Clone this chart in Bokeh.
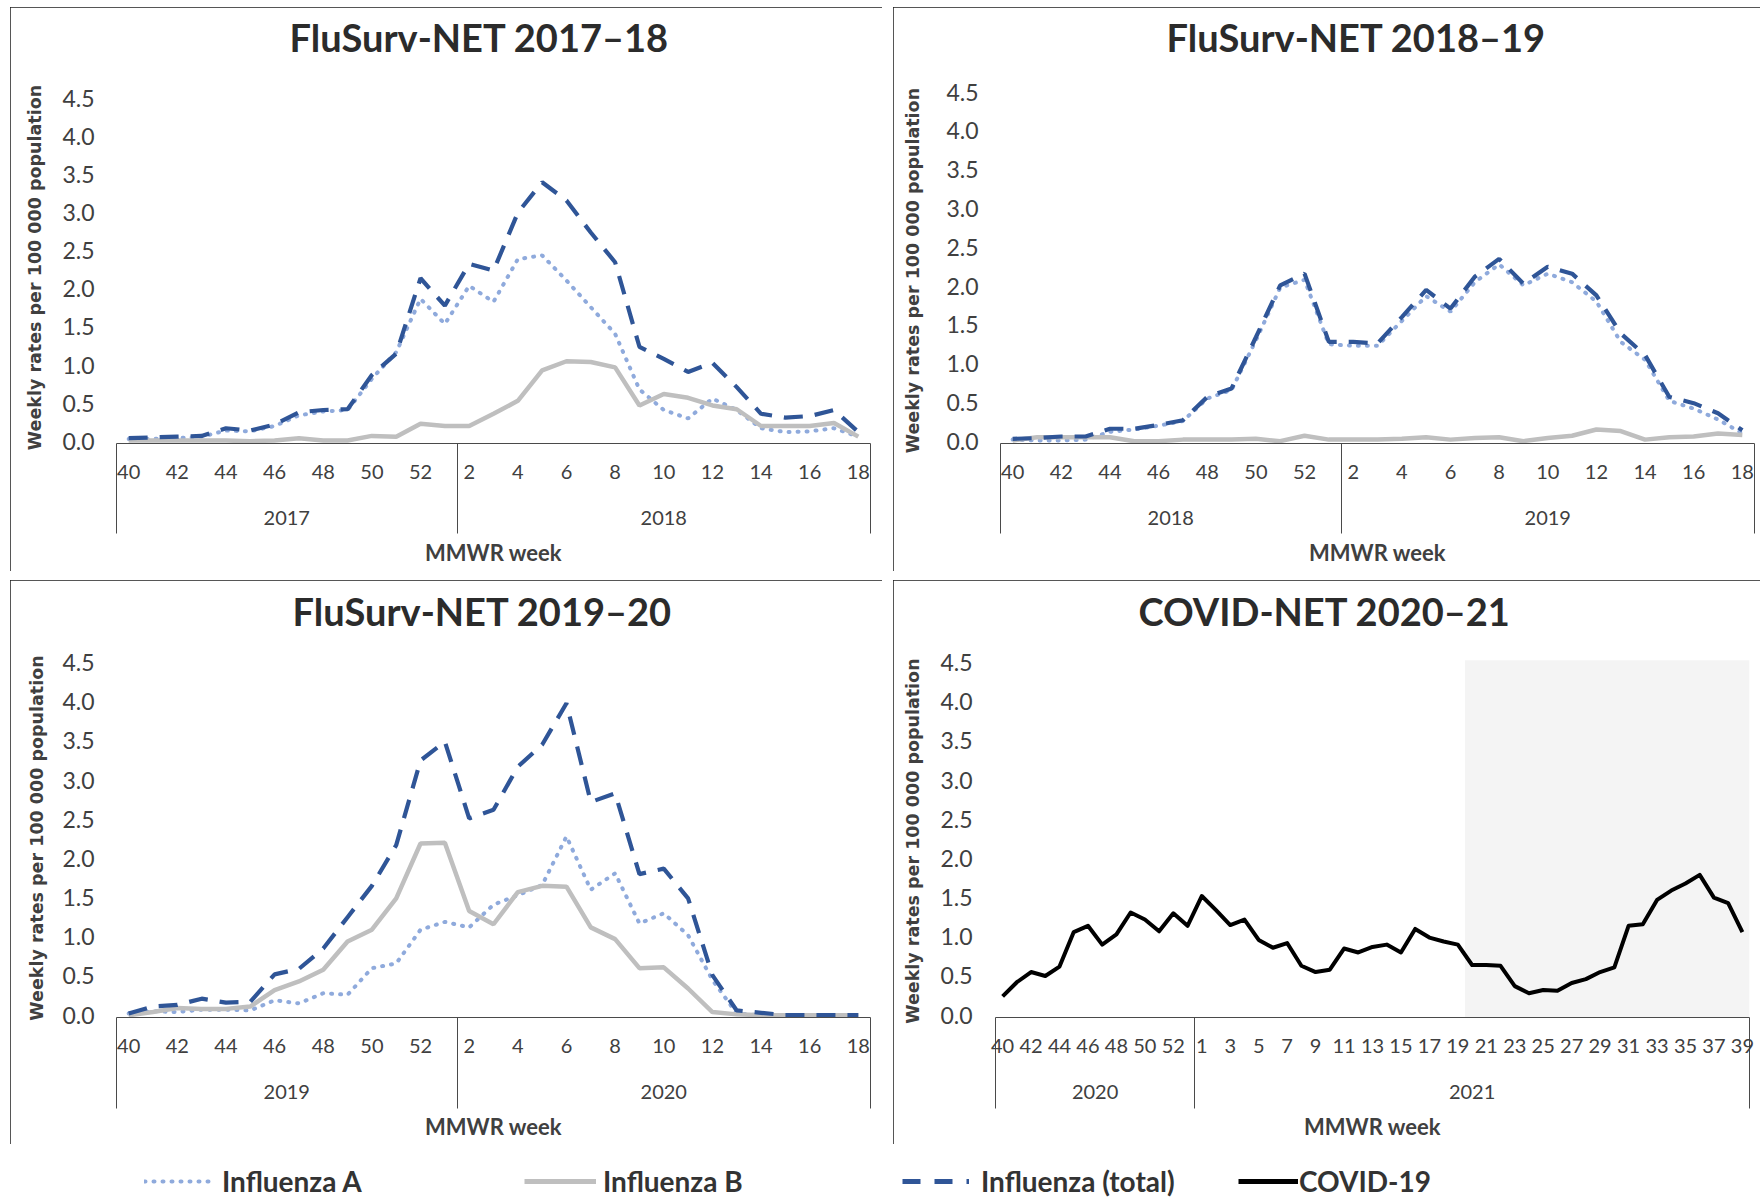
from bokeh.plotting import figure
from bokeh.models import (FixedTicker, LinearAxis, Range1d, Legend, LegendItem,
                          ColumnDataSource, PrintfTickFormatter, Spacer)
from bokeh.layouts import column, row
from bokeh.embed import file_html
from bokeh.resources import INLINE

# ---------------- data ----------------
FLU_WEEKS = list(range(40, 53)) + list(range(1, 19))
FLU_GROUP_SIZES = [14, 17]

S1718_YEARS = ["2017", "2018"]
S1718_A = [0.03, 0.03, 0.04, 0.06, 0.14, 0.13, 0.20, 0.34, 0.39, 0.41, 0.82, 1.17, 1.87, 1.54, 2.04, 1.83,
           2.39, 2.44, 2.11, 1.76, 1.41, 0.68, 0.41, 0.30, 0.56, 0.41, 0.17, 0.12, 0.13, 0.17, 0.06]
S1718_B = [0.01, 0.01, 0.01, 0.01, 0.01, 0.00, 0.01, 0.04, 0.01, 0.01, 0.07, 0.06, 0.23, 0.20, 0.20, 0.36,
           0.53, 0.93, 1.05, 1.04, 0.97, 0.47, 0.62, 0.57, 0.47, 0.42, 0.20, 0.20, 0.20, 0.24, 0.06]
S1718_TOTAL = [0.04, 0.05, 0.06, 0.07, 0.17, 0.14, 0.22, 0.38, 0.41, 0.42, 0.87, 1.15, 2.14, 1.78, 2.33, 2.24,
               3.00, 3.40, 3.16, 2.74, 2.35, 1.24, 1.08, 0.91, 1.03, 0.71, 0.36, 0.31, 0.33, 0.41, 0.12]

S1819_YEARS = ["2018", "2019"]
S1819_A = [0.02, 0.01, 0.01, 0.02, 0.12, 0.15, 0.20, 0.26, 0.55, 0.66, 1.30, 1.98, 2.08, 1.25, 1.23, 1.23,
           1.55, 1.87, 1.67, 2.05, 2.28, 2.01, 2.16, 2.05, 1.80, 1.28, 1.05, 0.52, 0.42, 0.28, 0.10]
S1819_B = [0.01, 0.05, 0.05, 0.05, 0.05, 0.00, 0.00, 0.02, 0.02, 0.02, 0.03, 0.00, 0.07, 0.02, 0.02, 0.02,
           0.03, 0.05, 0.02, 0.04, 0.05, 0.00, 0.04, 0.07, 0.15, 0.13, 0.02, 0.05, 0.06, 0.10, 0.08]
S1819_TOTAL = [0.03, 0.04, 0.06, 0.06, 0.16, 0.16, 0.21, 0.27, 0.57, 0.68, 1.34, 2.01, 2.16, 1.28, 1.28, 1.26,
               1.60, 1.95, 1.71, 2.12, 2.35, 2.03, 2.25, 2.16, 1.88, 1.39, 1.11, 0.57, 0.49, 0.36, 0.14]

S1920_YEARS = ["2019", "2020"]
S1920_A = [0.02, 0.05, 0.04, 0.07, 0.07, 0.06, 0.19, 0.15, 0.28, 0.26, 0.60, 0.66, 1.09, 1.19, 1.12, 1.41,
           1.53, 1.66, 2.28, 1.60, 1.81, 1.17, 1.30, 1.02, 0.45, 0.02, 0.00, 0.00, 0.00, 0.00, 0.00]
S1920_B = [0.00, 0.04, 0.09, 0.08, 0.08, 0.11, 0.32, 0.43, 0.58, 0.94, 1.09, 1.49, 2.19, 2.20, 1.33, 1.16,
           1.57, 1.65, 1.64, 1.12, 0.97, 0.60, 0.61, 0.34, 0.04, 0.01, 0.00, 0.00, 0.00, 0.00, 0.00]
S1920_TOTAL = [0.02, 0.11, 0.13, 0.21, 0.16, 0.17, 0.52, 0.59, 0.85, 1.25, 1.65, 2.17, 3.25, 3.49, 2.51, 2.62,
               3.17, 3.45, 3.98, 2.72, 2.83, 1.80, 1.87, 1.49, 0.51, 0.06, 0.03, 0.00, 0.00, 0.00, 0.00]

COVID_WEEKS = list(range(40, 54)) + list(range(1, 40))
COVID_GROUP_SIZES = [14, 39]
COVID_YEARS = ["2020", "2021"]
COVID_RATES = [0.24, 0.42, 0.55, 0.50, 0.62, 1.06, 1.14, 0.90, 1.03, 1.31, 1.22, 1.07, 1.30, 1.14,
               1.52, 1.34, 1.15, 1.22, 0.96, 0.86, 0.92, 0.63, 0.55, 0.58, 0.85, 0.80, 0.87, 0.90,
               0.80, 1.10, 0.99, 0.94, 0.90, 0.64, 0.64, 0.63, 0.37, 0.28, 0.32, 0.31, 0.41, 0.46,
               0.55, 0.61, 1.14, 1.16, 1.47, 1.59, 1.68, 1.79, 1.50, 1.43, 1.06]
COVID_SHADE_START_WEEK = 20      # 2021 week where the grey band starts
COVID_SHADE_TOP = 4.53

Y_TICKS = [0.0, 0.5, 1.0, 1.5, 2.0, 2.5, 3.0, 3.5, 4.0, 4.5]
LEGEND_LABELS = ["Influenza A", "Influenza B", "Influenza (total)", "COVID-19"]

# ---------------- styles ----------------
C_A = "#8FAADC"
C_B = "#BFBFBF"
C_TOT = "#2F5597"
C_COVID = "#000000"
TXT = "#404040"
TITLE_C = "#2b2b2b"
AX_C = "#4a4a4a"
FONT = "Lato"
Y_START = -0.03
BOX_LEFT = {"outline": "2px solid #1e1e1e", "outline-offset": "-2px"}
BOX_RIGHT = {"outline": "2px solid #1e1e1e", "outline-offset": "-2px",
             "clip-path": "inset(0px 2px 0px 0px)"}


def make_panel(title, weeks, group_sizes, years, series, ylabel, geo, shade=None):
    n = len(weeks)
    idx = list(range(n))
    ppu = (geo["y0"] - geo["y45"]) / 4.5
    frame_top = geo["ft"]
    yend = 4.5 + (geo["y45"] - frame_top) / ppu
    frame_bottom = geo["y0"] - Y_START * ppu
    p = figure(width=geo["w"], height=geo["h"], output_backend="svg", toolbar_location=None,
               x_range=Range1d(-0.5, n - 0.5), y_range=Range1d(Y_START, yend),
               min_border_left=geo["fl"], min_border_right=geo["w"] - geo["fr"],
               min_border_top=frame_top,
               min_border_bottom=int(round(geo["h"] - frame_bottom)),
               title=title)
    p.styles = geo["box"]
    p.xgrid.visible = False
    p.ygrid.visible = False
    p.outline_line_color = None
    p.background_fill_color = "white"
    p.border_fill_color = "white"

    week_axis = p.below[0]
    y_axis = p.left[0]

    # title (outermost above panel), pushed up by an invisible spacer axis
    p.title.align = "left"
    p.title.offset = geo["toff"]
    p.title.standoff = 0
    p.title.text_font = FONT
    p.title.text_font_style = "bold"
    p.title.text_font_size = "38px"
    p.title.text_color = TITLE_C
    spacer = LinearAxis(ticker=FixedTicker(ticks=[0]), major_label_overrides={0: " "})
    spacer.axis_line_color = None
    spacer.major_tick_line_color = None
    spacer.minor_tick_line_color = None
    spacer.major_tick_in = 0
    spacer.minor_tick_in = 0
    spacer.minor_tick_out = 0
    spacer.major_label_standoff = 0
    spacer.major_label_text_font_size = "1px"
    spacer.major_label_text_alpha = 0
    spacer.major_tick_out = int(round(frame_top - geo["ty"] - 21.7))
    p.add_layout(spacer, "above")

    if shade is not None:
        s_left, s_top = shade
        p.quad(left=[s_left], right=[n - 0.5], bottom=[Y_START], top=[s_top],
               fill_color="#F4F4F4", line_color=None)

    # y axis
    ya = y_axis
    ya.ticker = FixedTicker(ticks=Y_TICKS)
    ya.formatter = PrintfTickFormatter(format="%.1f")
    ya.axis_line_color = None
    ya.major_tick_line_color = None
    ya.minor_tick_line_color = None
    ya.major_tick_out = 0
    ya.major_tick_in = 0
    ya.minor_tick_out = 0
    ya.minor_tick_in = 0
    ya.major_label_standoff = geo["ystand"]
    ya.major_label_text_font = FONT
    ya.major_label_text_font_size = "23px"
    ya.major_label_text_color = TXT
    ya.axis_label = ylabel
    ya.axis_label_text_font = "DejaVu Sans"
    ya.axis_label_text_font_style = "bold"
    ya.axis_label_text_font_size = "17.5px"
    ya.axis_label_text_color = TXT
    ya.axis_label_standoff = geo["ylabstand"]

    # week axis; year-group separators drawn as long minor ticks
    bounds = [-0.5]
    acc = 0
    for g in group_sizes:
        acc += g
        bounds.append(acc - 0.5)
    sep = geo["sep"]
    xa = week_axis
    xa.ticker = FixedTicker(ticks=idx[::2], minor_ticks=bounds)
    xa.major_label_overrides = {i: str(weeks[i]) for i in idx[::2]}
    xa.axis_line_color = AX_C
    xa.axis_line_width = 1
    xa.major_tick_line_color = None
    xa.major_tick_out = 0
    xa.major_tick_in = 0
    xa.minor_tick_line_color = AX_C
    xa.minor_tick_line_width = 1
    xa.minor_tick_in = 0
    xa.minor_tick_out = sep
    xa.major_label_standoff = 21 - sep
    xa.major_label_text_font = FONT
    xa.major_label_text_font_size = "20px"
    xa.major_label_text_color = TXT

    # year axis
    centers = []
    start = 0
    for g in group_sizes:
        centers.append(start + (g - 1) / 2)
        start += g
    yr = LinearAxis(ticker=FixedTicker(ticks=centers),
                    major_label_overrides={c: y for c, y in zip(centers, years)})
    yr.axis_line_color = None
    yr.major_tick_line_color = None
    yr.minor_tick_line_color = None
    yr.major_tick_out = 0
    yr.major_tick_in = 0
    yr.minor_tick_out = 0
    yr.minor_tick_in = 0
    yr.major_label_standoff = 29
    yr.major_label_text_font = FONT
    yr.major_label_text_font_size = "20px"
    yr.major_label_text_color = TXT
    yr.axis_label = "MMWR week"
    yr.axis_label_text_font = FONT
    yr.axis_label_text_font_style = "bold"
    yr.axis_label_text_font_size = "22px"
    yr.axis_label_text_color = TXT
    yr.axis_label_standoff = 11
    p.add_layout(yr, "below")

    for kind, vals in series:
        src = ColumnDataSource(dict(x=idx, y=vals))
        if kind == "A":
            p.line("x", "y", source=src, line_color=C_A, line_width=4, line_dash="1 8", line_cap="round")
        elif kind == "B":
            p.line("x", "y", source=src, line_color=C_B, line_width=4.5)
        elif kind == "T":
            p.line("x", "y", source=src, line_color=C_TOT, line_width=4.2, line_dash="19 12")
        else:
            p.line("x", "y", source=src, line_color=C_COVID, line_width=4, line_join="round")
    return p


YL1 = "Weekly rates per 100 000 population"
YL2 = "Weekly rates  per 100 000 population"

# frames in one row share the same top edge (Bokeh aligns them), so ft is common per row
g1 = dict(w=872, h=564, fl=106, fr=860, ft=84, y45=91, y0=434, ystand=22, ylabstand=14, sep=90,
          toff=173, ty=30, box=BOX_LEFT)
g2 = dict(w=869, h=564, fl=107, fr=861, ft=84, y45=84.7, y0=434, ystand=22, ylabstand=20, sep=90,
          toff=166, ty=30, box=BOX_RIGHT)
g3 = dict(w=872, h=564, fl=106, fr=860, ft=78, y45=82, y0=434.5, ystand=22, ylabstand=12, sep=91,
          toff=176, ty=31, box=BOX_LEFT)
g4 = dict(w=869, h=564, fl=102, fr=856, ft=78, y45=82, y0=434.5, ystand=23, ylabstand=14, sep=91,
          toff=143, ty=31, box=BOX_RIGHT)

p1 = make_panel("FluSurv-NET 2017\u201318", FLU_WEEKS, FLU_GROUP_SIZES, S1718_YEARS,
                [("A", S1718_A), ("B", S1718_B), ("T", S1718_TOTAL)], YL1, g1)
p2 = make_panel("FluSurv-NET 2018\u201319", FLU_WEEKS, FLU_GROUP_SIZES, S1819_YEARS,
                [("A", S1819_A), ("B", S1819_B), ("T", S1819_TOTAL)], YL2, g2)
p3 = make_panel("FluSurv-NET 2019\u201320", FLU_WEEKS, FLU_GROUP_SIZES, S1920_YEARS,
                [("A", S1920_A), ("B", S1920_B), ("T", S1920_TOTAL)], YL1, g3)
shade_left = COVID_GROUP_SIZES[0] + COVID_WEEKS[COVID_GROUP_SIZES[0]:].index(COVID_SHADE_START_WEEK) - 0.5
p4 = make_panel("COVID-NET 2020\u201321", COVID_WEEKS, COVID_GROUP_SIZES, COVID_YEARS,
                [("C", COVID_RATES)], YL2, g4, shade=(shade_left, COVID_SHADE_TOP))

# ---------------- legend strip ----------------
lg = figure(width=1762, height=54, output_backend="svg", toolbar_location=None,
            x_range=Range1d(0, 1), y_range=Range1d(0, 1), min_border=0,
            x_axis_location=None, y_axis_location=None)
lg.xgrid.visible = False
lg.ygrid.visible = False
lg.outline_line_color = None
nan = float("nan")
rA = lg.line("x", "y", source=ColumnDataSource(dict(x=[nan], y=[nan])), line_color=C_A, line_width=4,
             line_dash="1 8", line_cap="round")
rB = lg.line("x", "y", source=ColumnDataSource(dict(x=[nan], y=[nan])), line_color=C_B, line_width=5)
rT = lg.line("x", "y", source=ColumnDataSource(dict(x=[nan], y=[nan])), line_color=C_TOT, line_width=5,
             line_dash="18 14")
rC = lg.line("x", "y", source=ColumnDataSource(dict(x=[nan], y=[nan])), line_color=C_COVID, line_width=5)

for lab, r, xpos, gw, st in zip(LEGEND_LABELS, [rA, rB, rT, rC],
                                [144, 524, 902, 1238], [67, 72, 67, 60], [11, 7, 12, 1]):
    leg = Legend(items=[LegendItem(label=lab, renderers=[r])], location=(xpos, 0),
                 padding=0, margin=0, spacing=0, border_line_color=None, background_fill_alpha=0,
                 glyph_width=gw, glyph_height=20, label_standoff=st, label_height=20,
                 label_text_font=FONT, label_text_font_style="bold", label_text_font_size="28px",
                 label_text_color="#333333", label_text_baseline="middle")
    lg.add_layout(leg)

layout = column(Spacer(height=7),
                row(Spacer(width=10), p1, Spacer(width=11), p2),
                Spacer(height=9),
                row(Spacer(width=10), p3, Spacer(width=11), p4),
                lg)
open("out.html", "w").write(file_html(layout, INLINE))
